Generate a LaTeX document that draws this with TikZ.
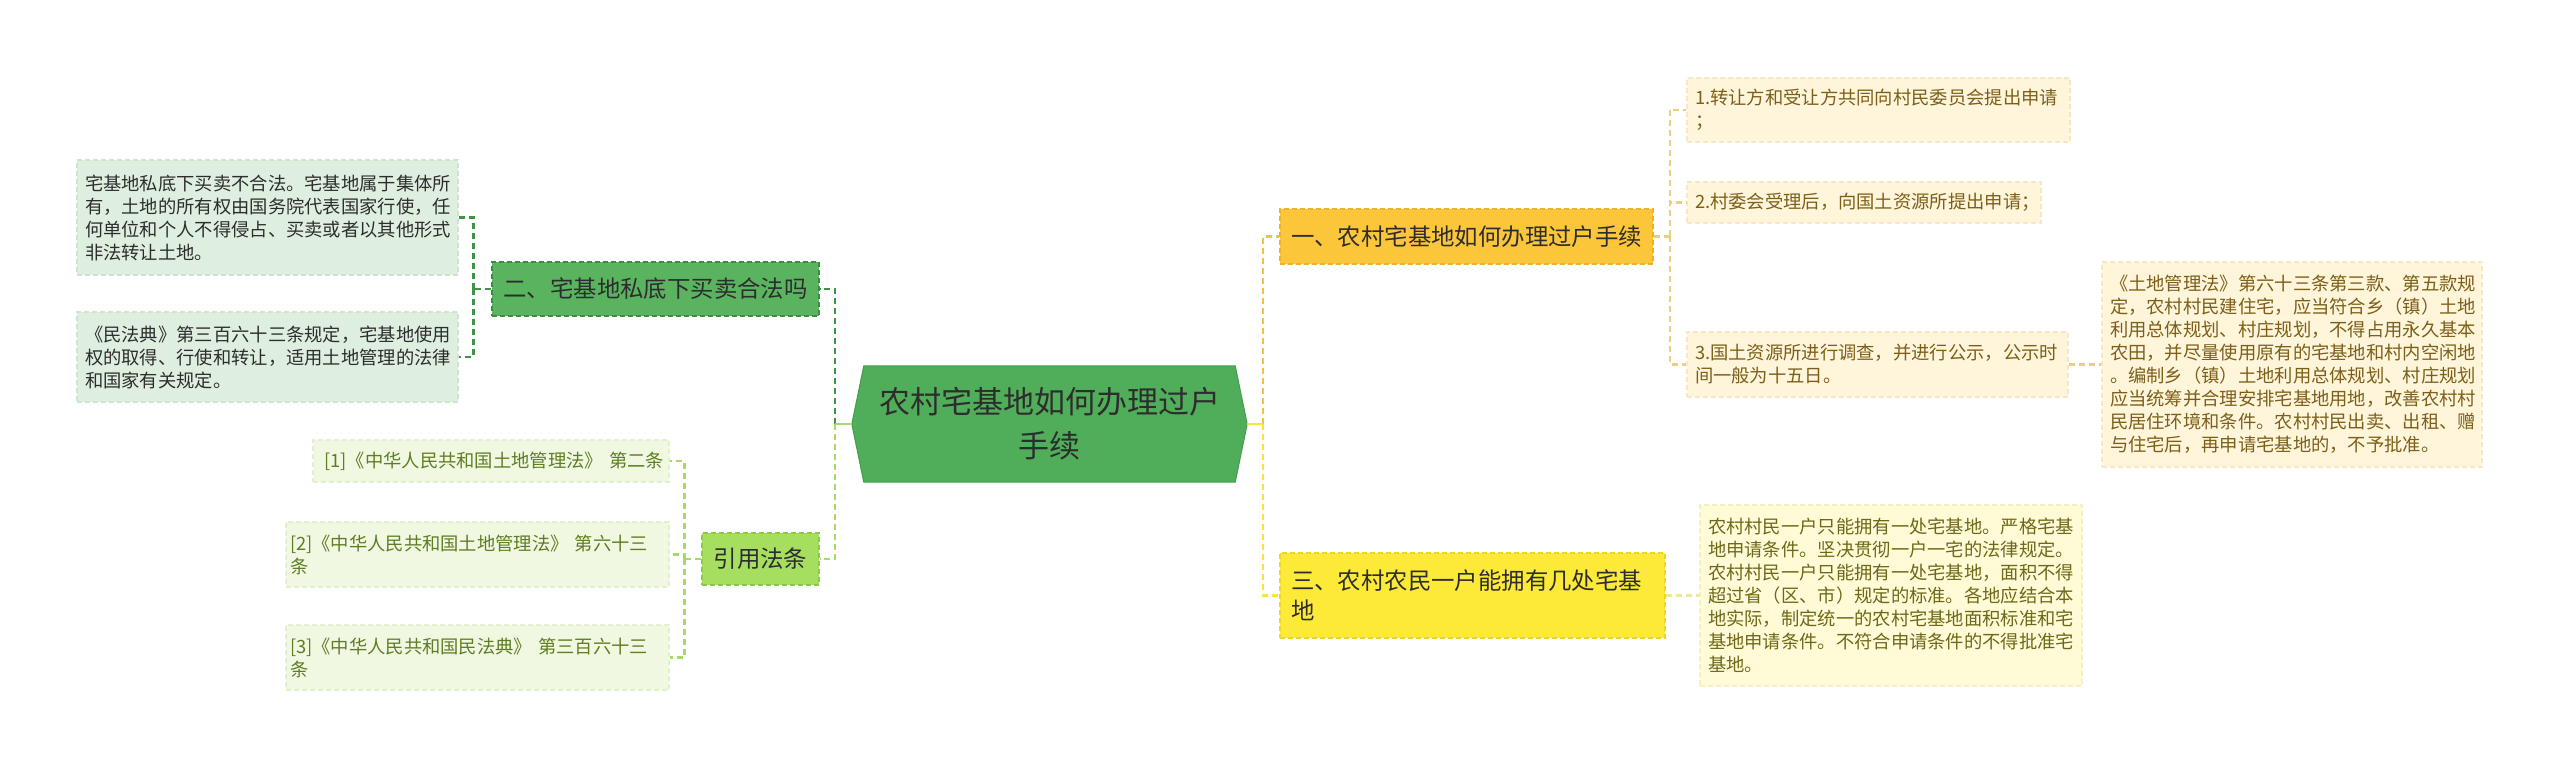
\documentclass[tikz,border=0pt]{standalone}
\usepackage{fontspec}
\setmainfont{Noto Sans CJK SC}
\usetikzlibrary{backgrounds,calc}
\definecolor{txt}{RGB}{45,45,45}
\definecolor{rootfill}{RGB}{80,174,90}
\definecolor{rootborder}{RGB}{70,155,78}
\definecolor{ntwofill}{RGB}{90,180,95}
\definecolor{ntwoborder}{RGB}{60,140,66}
\definecolor{afill}{RGB}{222,239,223}
\definecolor{aborder}{RGB}{205,228,206}
\definecolor{dkgreen}{RGB}{62,148,70}
\definecolor{citefill}{RGB}{166,222,96}
\definecolor{citeborder}{RGB}{140,200,75}
\definecolor{limec}{RGB}{168,216,104}
\definecolor{lfill}{RGB}{240,248,226}
\definecolor{lborder}{RGB}{226,240,208}
\definecolor{ltext}{RGB}{95,125,35}
\definecolor{onefill}{RGB}{252,198,58}
\definecolor{oneborder}{RGB}{238,176,40}
\definecolor{orangec}{RGB}{245,190,70}
\definecolor{rfill}{RGB}{254,245,218}
\definecolor{rborder}{RGB}{245,232,198}
\definecolor{rtext}{RGB}{125,95,25}
\definecolor{tanc}{RGB}{235,206,132}
\definecolor{threefill}{RGB}{252,233,56}
\definecolor{threeborder}{RGB}{238,214,40}
\definecolor{yellowc}{RGB}{250,228,60}
\definecolor{ffill}{RGB}{254,251,214}
\definecolor{fborder}{RGB}{245,240,192}
\definecolor{ftext}{RGB}{110,105,25}
\definecolor{paleyc}{RGB}{240,232,150}
\tikzset{
  box/.style={rectangle, inner xsep=8pt, inner ysep=3pt, align=left, line width=1.2pt, dash pattern=on 5pt off 3pt},
  leaf/.style={box, font=\fontsize{18.3}{23}\selectfont},
  midbox/.style={box, font=\fontsize{23.4}{30}\selectfont, text=txt},
  conn/.style={line width=2.2pt, dash pattern=on 6pt off 4pt},
}
\begin{document}
\begin{tikzpicture}[x=1pt,y=-1pt]
\begin{scope}[on background layer]
\fill[white] (0,0) rectangle (2560,767);
\end{scope}
\useasboundingbox (0,0) rectangle (2560,767);

% root
\node[font=\fontsize{31}{44}\selectfont, text=txt, align=center, minimum width=371pt, minimum height=116pt, inner sep=0pt] (root) at (1049.5,424) {农村宅基地如何办理过户\\手续};
\begin{scope}[on background layer]
\filldraw[fill=rootfill, draw=rootborder, line width=1pt] (root.north west) -- (root.north east) -- ([xshift=12pt]root.east) -- (root.south east) -- (root.south west) -- ([xshift=-12pt]root.west) -- cycle;
\end{scope}
\coordinate (rootL) at ([xshift=-12pt]root.west);
\coordinate (rootR) at ([xshift=12pt]root.east);

% left side
\node[midbox, fill=ntwofill, draw=ntwoborder, text width=311pt, minimum height=54pt, align=center] (n2) at (655.5,289) {二、宅基地私底下买卖合法吗};
\node[midbox, fill=citefill, draw=citeborder, text width=101pt, minimum height=52pt, align=center] (cite) at (760.5,559) {引用法条};

\node[leaf, fill=afill, draw=aborder, text=txt, text width=365pt, minimum height=115pt] (a1) at (267.5,217.5) {宅基地私底下买卖不合法。宅基地属于集体所\\有，土地的所有权由国务院代表国家行使，任\\何单位和个人不得侵占、买卖或者以其他形式\\非法转让土地。};
\node[leaf, fill=afill, draw=aborder, text=txt, text width=365pt, minimum height=90pt] (a2) at (267.5,357) {《民法典》第三百六十三条规定，宅基地使用\\权的取得、行使和转让，适用土地管理的法律\\和国家有关规定。};

\node[leaf, fill=lfill, draw=lborder, text=ltext, text width=346pt, inner xsep=5pt, minimum height=42pt, align=right] (l1) at (491,461) {[1]《中华人民共和国土地管理法》~第二条};
\node[leaf, fill=lfill, draw=lborder, text=ltext, text width=375pt, inner xsep=4pt, minimum height=65pt] (l2) at (477.5,554.5) {[2]《中华人民共和国土地管理法》 第六十三\\条};
\node[leaf, fill=lfill, draw=lborder, text=ltext, text width=375pt, inner xsep=4pt, minimum height=65pt] (l3) at (477.5,657.5) {[3]《中华人民共和国民法典》 第三百六十三\\条};

% right side
\node[midbox, fill=onefill, draw=oneborder, text width=357pt, minimum height=55pt, align=center] (n1) at (1466.5,236.5) {一、农村宅基地如何办理过户手续};
\node[midbox, fill=threefill, draw=threeborder, text width=363pt, inner xsep=11pt, minimum height=85pt] (n3) at (1472.5,595.5) {三、农村农民一户能拥有几处宅基\\地};

\node[leaf, fill=rfill, draw=rborder, text=rtext, text width=367pt, minimum height=64pt] (r1) at (1878.5,110) {1.转让方和受让方共同向村民委员会提出申请\\；};
\node[leaf, fill=rfill, draw=rborder, text=rtext, text width=338pt, minimum height=41pt] (r2) at (1864,202.5) {2.村委会受理后，向国土资源所提出申请；};
\node[leaf, fill=rfill, draw=rborder, text=rtext, text width=365pt, minimum height=65pt] (r3) at (1877.5,364.5) {3.国土资源所进行调查，并进行公示，公示时\\间一般为十五日。};
\node[leaf, fill=rfill, draw=rborder, text=rtext, text width=364pt, minimum height=205pt] (r3c) at (2292,364.5) {《土地管理法》第六十三条第三款、第五款规\\定，农村村民建住宅，应当符合乡（镇）土地\\利用总体规划、村庄规划，不得占用永久基本\\农田，并尽量使用原有的宅基地和村内空闲地\\。编制乡（镇）土地利用总体规划、村庄规划\\应当统筹并合理安排宅基地用地，改善农村村\\民居住环境和条件。农村村民出卖、出租、赠\\与住宅后，再申请宅基地的，不予批准。};
\node[leaf, fill=ffill, draw=fborder, text=ftext, text width=366pt, minimum height=181pt] (r4) at (1891,595.5) {农村村民一户只能拥有一处宅基地。严格宅基\\地申请条件。坚决贯彻一户一宅的法律规定。\\农村村民一户只能拥有一处宅基地，面积不得\\超过省（区、市）规定的标准。各地应结合本\\地实际，制定统一的农村宅基地面积标准和宅\\基地申请条件。不符合申请条件的不得批准宅\\基地。};

% trunk coordinates
\coordinate (lt) at ([xshift=-17pt]rootL);
\coordinate (rt) at ([xshift=16pt]rootR);
\coordinate (t2) at ([xshift=-18pt]n2.west);
\coordinate (tc) at ([xshift=-17pt]cite.west);
\coordinate (t1) at ([xshift=16pt]n1.east);

% connectors
\draw[conn, dkgreen] (lt) |- (n2.east);
\draw[conn, limec] (lt) |- (cite.east);
\draw[conn, limec, solid] (rootL) -- (lt);
\draw[conn, orangec] (rt) |- (n1.west);
\draw[conn, yellowc] (rt) |- (n3.west);
\draw[conn, yellowc, solid] (rootR) -- (rt);

\draw[conn, dkgreen] (n2.west) -- (t2);
\draw[conn, dkgreen] (t2) |- (a1.east);
\draw[conn, dkgreen] (t2) |- (a2.east);

\draw[conn, limec] (cite.west) -- (tc);
\draw[conn, limec] (tc) |- (l1.east);
\draw[conn, limec] (tc) |- (l2.east);
\draw[conn, limec] (tc) |- (l3.east);

\draw[conn, tanc] (n1.east) -- (t1);
\draw[conn, tanc] (t1) |- (r1.west);
\draw[conn, tanc] (t1) |- (r2.west);
\draw[conn, tanc] (t1) |- (r3.west);
\draw[conn, tanc] (r3.east) -- (r3c.west);

\draw[conn, paleyc] (n3.east) -- (r4.west);
\end{tikzpicture}
\end{document}
